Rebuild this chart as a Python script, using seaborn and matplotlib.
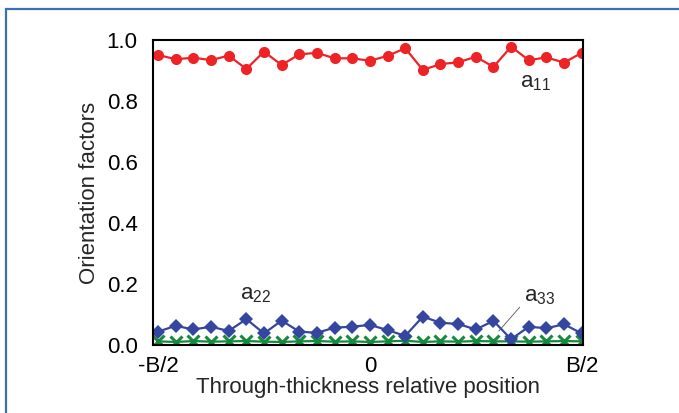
import numpy as np
import pandas as pd
import matplotlib
matplotlib.use("Agg")
import matplotlib.pyplot as plt
from matplotlib.patches import Rectangle
from matplotlib.ticker import MultipleLocator, FormatStrFormatter
import seaborn as sns

# 25 measurement positions across the thickness (-B/2 .. B/2)
positions = np.linspace(-0.5, 0.5, 25)

a11 = [0.951, 0.937, 0.942, 0.934, 0.949, 0.905, 0.962, 0.918, 0.953, 0.958,
       0.940, 0.940, 0.932, 0.948, 0.973, 0.902, 0.921, 0.927, 0.945, 0.912,
       0.978, 0.934, 0.943, 0.926, 0.958]
a22 = [0.044, 0.063, 0.051, 0.060, 0.046, 0.085, 0.038, 0.080, 0.044, 0.040,
       0.057, 0.060, 0.066, 0.049, 0.030, 0.093, 0.073, 0.069, 0.051, 0.079,
       0.019, 0.060, 0.055, 0.068, 0.038]
a33 = [0.012, 0.010, 0.013, 0.011, 0.012, 0.013, 0.011, 0.010, 0.012, 0.013,
       0.011, 0.012, 0.010, 0.012, 0.014, 0.010, 0.012, 0.011, 0.013, 0.012,
       0.012, 0.011, 0.012, 0.013, 0.012]

tick_pos = [-0.5, 0.0, 0.5]
tick_labels = ["-B/2", "0", "B/2"]

sns.set_style("white")
plt.rcParams['font.family'] = ['Liberation Sans', 'DejaVu Sans']
plt.rcParams['mathtext.default'] = 'regular'

fig = plt.figure(figsize=(6.79, 4.13), dpi=100)
ax = fig.add_axes([0.2253, 0.1646, 0.6333, 0.7385])

red = "#ee2326"
blue = "#3546a0"
green = "#168a3c"

sns.lineplot(x=positions, y=a33, ax=ax, color=green, marker="x", markersize=8,
             markeredgewidth=2.2, markeredgecolor=green, lw=1.6, legend=False)
sns.lineplot(x=positions, y=a22, ax=ax, color=blue, marker="D", markersize=7,
             markeredgewidth=0, markeredgecolor=blue, lw=1.6, legend=False)
sns.lineplot(x=positions, y=a11, ax=ax, color=red, marker="o", markersize=8,
             markeredgewidth=0, markeredgecolor=red, lw=1.6, legend=False)

ax.set_xlim(-0.512, 0.503)
ax.set_ylim(0, 1.0)
ax.set_xticks(tick_pos)
ax.set_xticklabels(tick_labels)
ax.yaxis.set_major_locator(MultipleLocator(0.2))
ax.yaxis.set_minor_locator(MultipleLocator(0.05))
ax.yaxis.set_major_formatter(FormatStrFormatter("%.1f"))
ax.xaxis.set_minor_locator(MultipleLocator(0.0625))

ax.tick_params(axis="both", which="both", direction="in", labelsize=16,
               colors="black", width=1.2)
ax.tick_params(which="major", length=5)
ax.tick_params(which="minor", length=3.5)
ax.tick_params(axis="x", pad=8)
ax.tick_params(axis="y", pad=11, right=False)
ax.tick_params(axis="x", top=False)

for s in ax.spines.values():
    s.set_color("black")
    s.set_linewidth(1.5)

ax.set_xlabel("Through-thickness relative position", fontsize=16, labelpad=0)
ax.set_ylabel("Orientation factors", fontsize=16, labelpad=5)

ax.text(0.39, 0.86, "a$_{11}$", fontsize=16, ha="center", va="center")
ax.text(-0.27, 0.165, "a$_{22}$", fontsize=16, ha="center", va="center")
ax.text(0.40, 0.16, "a$_{33}$", fontsize=16, ha="center", va="center")
ax.annotate("", xy=(0.30, 0.039), xytext=(0.358, 0.131),
            arrowprops=dict(arrowstyle="-", color="#555555", lw=0.6))

# blue frame around the figure
fig.patches.append(Rectangle((0.0088, -0.1), 1.2, 1.078, transform=fig.transFigure,
                             fill=False, edgecolor="#3a70b5", lw=1.6))

fig.savefig("out.png", dpi=100)
